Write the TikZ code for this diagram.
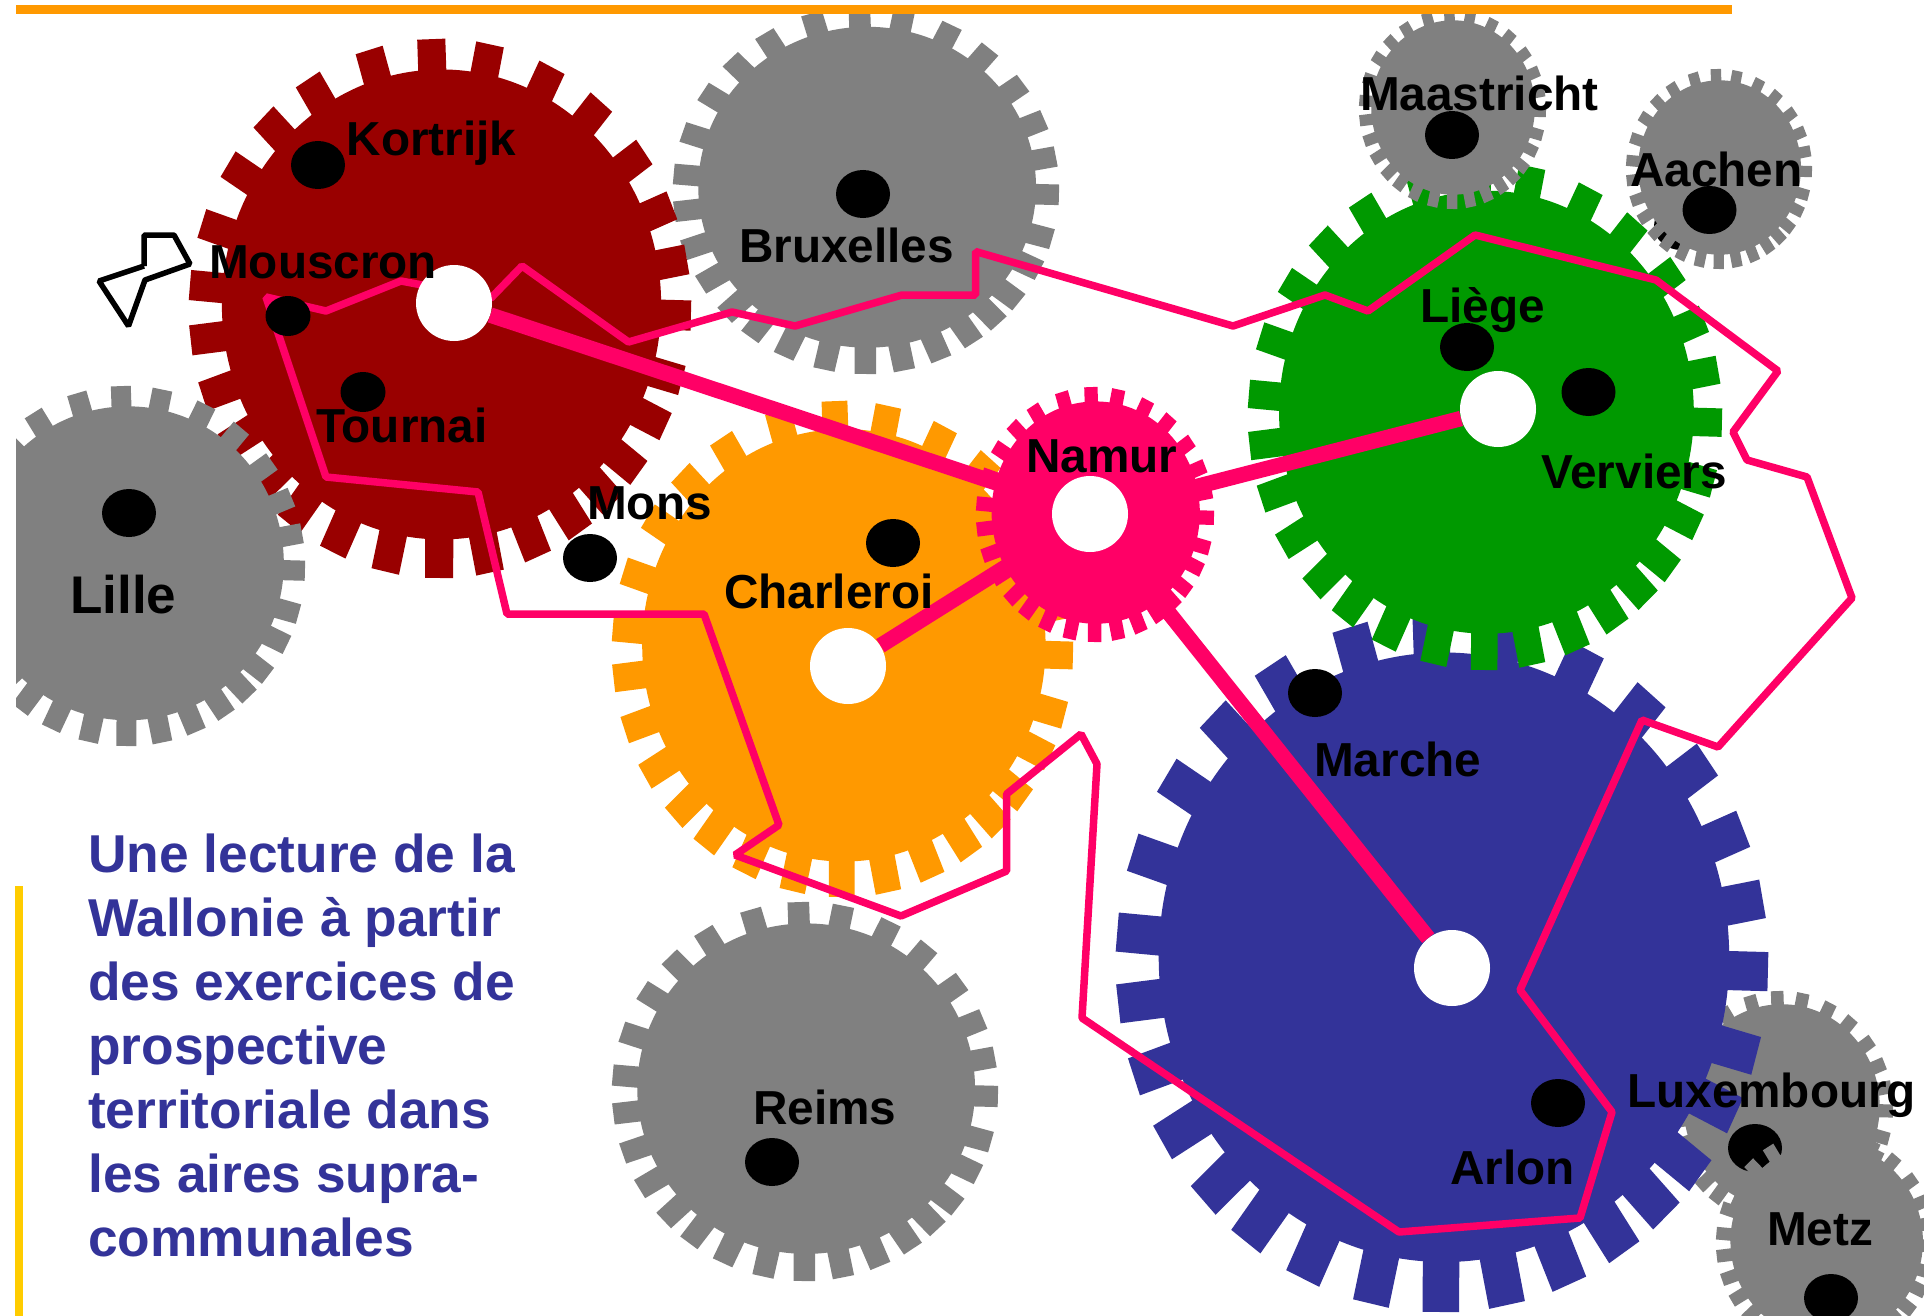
\documentclass[tikz,border=0pt]{standalone}
\usepackage{fontspec}
\setmainfont{Liberation Sans}
\usetikzlibrary{shapes.geometric}
\definecolor{cred}{HTML}{990000}
\definecolor{cgreen}{HTML}{009900}
\definecolor{cblue}{HTML}{333399}
\definecolor{corange}{HTML}{FF9900}
\definecolor{cpink}{HTML}{FF0066}
\definecolor{cgray}{HTML}{808080}
\definecolor{cyellow}{HTML}{FFCC00}
\pgfdeclarelayer{gears}
\pgfdeclarelayer{lines}
\pgfsetlayers{gears,lines,main}
\newcommand\gearwheel[5]{%
  \begin{scope}[shift={(#1,#2)},x=#3pt,y=#4pt]
    \fill[#5] (.006,.015) ellipse [x radius=.875*#3pt, y radius=.872*#4pt];
    \foreach \a in {92,78.5,63.5,50,35.5,22.5,10.5,-1.5,-15.5,-26,-37.6,-46.5,-56,-67,-78.5,-90.2,-102.6,-115.3,-127,-137.1,-149,-160.9,-173.2,175,161.6,147.6,134.7,121.8,106.4}{
      \fill[#5] ({.8*cos(\a)-.056*sin(\a)},{.8*sin(\a)+.056*cos(\a)})
        -- ({cos(\a)-.056*sin(\a)},{sin(\a)+.056*cos(\a)})
        -- ({cos(\a)+.056*sin(\a)},{sin(\a)-.056*cos(\a)})
        -- ({.8*cos(\a)+.056*sin(\a)},{.8*sin(\a)-.056*cos(\a)}) -- cycle;
    }
  \end{scope}}
\tikzset{
  hole/.style={circle,fill=white,minimum size=76pt,inner sep=0pt},
  bigdot/.style={ellipse,fill=black,minimum width=54pt,minimum height=48pt,inner sep=0pt},
  smalldot/.style={ellipse,fill=black,minimum width=45pt,minimum height=40pt,inner sep=0pt},
  lab/.style={anchor=base west,inner sep=0pt,font=\fontsize{47.7}{47.7}\selectfont\bfseries},
  spoke/.style={cpink,line width=15.5pt},
  frontier/.style={cpink,line width=7.5pt,line join=bevel},
}
\begin{document}
\begin{tikzpicture}[x=1pt,y=-1pt]
\useasboundingbox (0,0) rectangle (1924,1316);
\begin{pgfonlayer}{gears}
  \fill[white] (0,0) rectangle (1924,1316);
  \gearwheel{805}{1091.5}{193}{189.5}{cgray}
  \gearwheel{866}{190}{193}{184}{cgray}
  \gearwheel{440}{308.5}{251}{269.5}{cred}
  \gearwheel{127}{566}{178}{180}{cgray}
  \fill[white] (0,370) rectangle (15.5,760);
  \gearwheel{842.5}{649}{230.5}{248}{corange}
  \gearwheel{1781}{1108}{112}{117}{cgray}
  \node[bigdot] (dLux) at (1755,1148) {};
  \gearwheel{1826}{1243}{110}{113}{cgray}
  \gearwheel{1442}{962.5}{326}{349.5}{cblue}
  \gearwheel{1485}{416}{237}{254}{cgreen}
  \node[bigdot] (dHidden) at (1681,226) {};
  \gearwheel{1452.5}{109}{93.5}{100}{cgray}
  \gearwheel{1719}{169}{93}{100}{cgray}
  \gearwheel{1095}{514.5}{119}{127.5}{cpink}
\end{pgfonlayer}
\fill[corange] (15.5,5) rectangle (1732,14);
\fill[cyellow] (15,886) rectangle (23,1316);
\node[hole] (hRed) at (454,303) {};
\node[hole] (hOrange) at (848,666) {};
\node[hole] (hNamur) at (1090,514) {};
\node[hole] (hGreen) at (1498,409) {};
\node[hole] (hBlue) at (1452,968) {};
\begin{pgfonlayer}{lines}
  \draw[spoke] (hRed) -- (hNamur);
  \draw[spoke] (hOrange) -- (hNamur);
  \draw[spoke] (hGreen) -- (hNamur);
  \draw[spoke] (hBlue) -- (hNamur);
  \draw[frontier] (266,297) -- (326,311) -- (401,281) -- (491,298) -- (522,266) -- (628.5,342) -- (732,312) -- (795,326) -- (902,295) -- (975.5,295) -- (975.5,251.5) -- (1233,326) -- (1325,295) -- (1368,311) -- (1475,235) -- (1656,280) -- (1778,371) -- (1733,432) -- (1747,460) -- (1807,477) -- (1852,598) -- (1718,747) -- (1642,720) -- (1520,990) -- (1612,1112) -- (1580,1218) -- (1399,1232) -- (1082,1018) -- (1097,764) -- (1081,734) -- (1006.6,794) -- (1006.6,871) -- (901,916) -- (735,855) -- (779,825) -- (704,614) -- (507,614) -- (478,492) -- (326,477) -- cycle;
  \draw[line width=5.5pt,line join=bevel] (144,266) -- (144,235) -- (174,235) -- (190,264) -- (145,280) -- (128.5,326) -- (99,281) -- (144,266);
\end{pgfonlayer}
\node[bigdot] (dKortrijk) at (318,165) {};
\node[smalldot] (dMouscron) at (288,316) {};
\node[smalldot] (dTournai) at (363,392) {};
\node[bigdot] (dLille) at (129,513) {};
\node[bigdot] (dMons) at (590,558) {};
\node[bigdot] (dBruxelles) at (863,194) {};
\node[bigdot] (dCharleroi) at (893,543) {};
\node[bigdot] (dMaastricht) at (1452,135) {};
\node[bigdot] (dAachen) at (1709.5,210) {};
\node[bigdot] (dLiege) at (1467,347) {};
\node[bigdot] (dVerviers) at (1588.5,392) {};
\node[bigdot] (dMarche) at (1315,693) {};
\node[bigdot] (dReims) at (772,1162) {};
\node[bigdot] (dArlon) at (1558,1103) {};
\node[bigdot] (dMetz) at (1831,1298) {};
\node[lab] (tKortrijk) at (346.5,156) {Kortrijk};
\node[lab] (tMouscron) at (209,278) {Mouscron};
\node[lab] (tTournai) at (316,442) {Tournai};
\node[lab,font=\fontsize{53}{53}\selectfont\bfseries] (tLille) at (70,613) {Lille};
\node[lab] (tMons) at (587,519) {Mons};
\node[lab] (tBruxelles) at (739,262) {Bruxelles};
\node[lab] (tCharleroi) at (724,608) {Charleroi};
\node[lab] (tNamur) at (1026,472) {Namur};
\node[lab] (tMaastricht) at (1360,111) {Maastricht};
\node[lab] (tAachen) at (1630,186) {Aachen};
\node[lab] (tLiege) at (1420,322) {Liège};
\node[lab] (tVerviers) at (1541,488) {Verviers};
\node[lab] (tMarche) at (1314,776) {Marche};
\node[lab] (tReims) at (753,1124) {Reims};
\node[lab] (tLuxembourg) at (1627,1107) {Luxembourg};
\node[lab] (tArlon) at (1450,1184) {Arlon};
\node[lab] (tMetz) at (1767,1245) {Metz};
\node[anchor=north west,inner sep=0pt,align=left,text=cblue,font=\fontsize{53.3}{64}\selectfont\bfseries] (title) at (88,834)
  {Une lecture de la\\Wallonie à partir\\des exercices de\\prospective\\territoriale dans\\les aires supra-\\communales};
\end{tikzpicture}
\end{document}
